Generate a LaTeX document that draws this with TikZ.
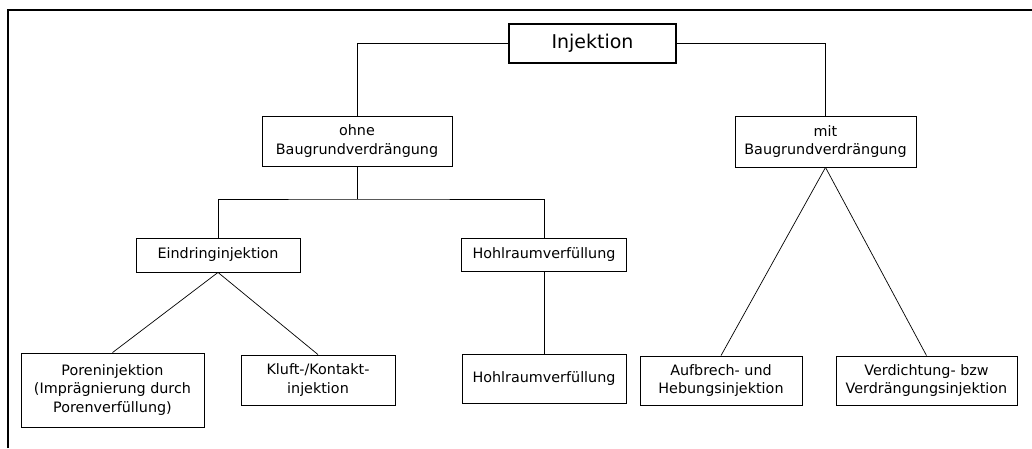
\documentclass[tikz,border=0pt]{standalone}
\usepackage{fontspec}
\setmainfont{DejaVu Sans}
\usepackage{tikz}
\usetikzlibrary{calc}
\usetikzlibrary{positioning}

\begin{document}
\begin{tikzpicture}[x=0.025cm, y=-0.025cm,
    box/.style={draw, line width=0.6pt, align=center, inner sep=0pt,
      font=\fontsize{10.2}{13.2}\selectfont},
    topbox/.style={box, line width=2pt, font=\fontsize{13.5}{15}\selectfont},
    link/.style={line width=0.5pt}]
  \useasboundingbox (0, 0) rectangle (1032, 448);
  % frame, cut off at the right and bottom
  \draw[line width=1.4pt] (8, 448) -- (8, 10) -- (1032, 10);

  \node[topbox, minimum width=167*0.025cm, minimum height=39*0.025cm] (inj) at (592.5, 43.5) {Injektion};
  \node[box, minimum width=190*0.025cm, minimum height=50*0.025cm] (ohne) at (357, 141) {ohne\\Baugrundverdrängung};
  \node[box, minimum width=181*0.025cm, minimum height=51*0.025cm] (mit) at (825.5, 141.5) {mit\\Baugrundverdrängung};
  \node[box, minimum width=164*0.025cm, minimum height=34*0.025cm] (eind) at (218, 255) {Eindringinjektion};
  \node[box, minimum width=165*0.025cm, minimum height=33*0.025cm] (hohlA) at (544, 254.5) {Hohlraumverfüllung};
  \node[box, minimum width=164*0.025cm, minimum height=49*0.025cm] (hohlB) at (544, 378.5) {Hohlraumverfüllung};
  \node[box, minimum width=183*0.025cm, minimum height=74*0.025cm] (poren) at (112.5, 390) {Poreninjektion\\(Imprägnierung durch\\Porenverfüllung)};
  \node[box, minimum width=154*0.025cm, minimum height=50*0.025cm] (kluft) at (318, 380) {Kluft-/Kontakt-\\injektion};
  \node[box, minimum width=162*0.025cm, minimum height=49*0.025cm] (aufb) at (721, 380.5) {Aufbrech- und\\Hebungsinjektion};
  \node[box, minimum width=181*0.025cm, minimum height=49*0.025cm] (verd) at (926.5, 380.5) {Verdichtung- bzw\\Verdrängungsinjektion};

  \coordinate (split) at (357, 199);

  \draw[link] (inj.west) -| (ohne.north);
  \draw[link] (inj.east) -| (mit.north);
  \draw[link] (ohne.south) -- (split);
  \draw[link] (eind.north) |- (split) -| (hohlA.north);
  \draw[link] (eind.south) -- (poren.north);
  \draw[link] (eind.south) -- (kluft.north);
  \draw[link] (hohlA.south) -- (hohlB.north);
  \draw[link] (mit.south) -- (aufb.north);
  \draw[link] (mit.south) -- (verd.north);
\end{tikzpicture}
\end{document}
